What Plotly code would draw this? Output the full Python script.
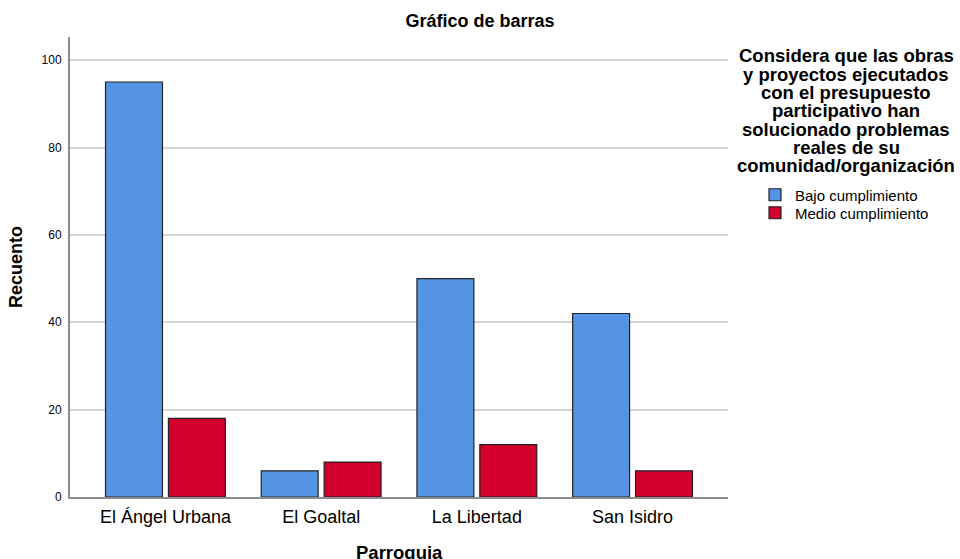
import plotly.graph_objects as go

categories = ["El Ángel Urbana", "El Goaltal", "La Libertad", "San Isidro"]
bajo = [95, 6, 50, 42]
medio = [18, 8, 12, 6]
series_names = ["Bajo cumplimiento", "Medio cumplimiento"]
y_ticks = [0, 20, 40, 60, 80, 100]
legend_title_lines = [
    "Considera que las obras",
    "y proyectos ejecutados",
    "con el presupuesto",
    "participativo han",
    "solucionado problemas",
    "reales de su",
    "comunidad/organización",
]

FONT = "Liberation Sans, Arial, sans-serif"
BLUE = "#5594e4"
RED = "#d3002e"

W, H = 960, 559
ML, MR, MT, MB = 70, 232, 37, 62
PH = H - MT - MB

fig = go.Figure()
fig.add_trace(go.Bar(x=categories, y=bajo, name=series_names[0], legend="legend",
                     marker=dict(color=BLUE, line=dict(color="#222222", width=1.2))))
fig.add_trace(go.Bar(x=categories, y=medio, name=series_names[1], legend="legend2",
                     marker=dict(color=RED, line=dict(color="#222222", width=1.2))))

# legend title as stacked lines (tight line spacing)
cx = (846 - ML) / (W - ML - MR)
for i, line in enumerate(legend_title_lines):
    ypix = 56 + 18.3 * i
    fig.add_annotation(text=f"<b>{line}</b>", xref="paper", yref="paper",
                       x=cx, y=1 - (ypix - MT) / PH,
                       xanchor="center", yanchor="middle", showarrow=False,
                       font=dict(family=FONT, size=18.5, color="#000"))

# x-axis title (sits partly below the page edge, as in the reference)
fig.add_annotation(text="<b>Parroquia</b>", xref="paper", yref="paper",
                   x=0.5, y=-(552 - (H - MB)) / PH, xanchor="center", yanchor="middle",
                   showarrow=False, font=dict(family=FONT, size=18.5, color="#000"))

legend_common = dict(xref="container", yref="container", x=755 / W,
                     xanchor="left", yanchor="middle",
                     font=dict(family=FONT, size=15, color="#000"),
                     bgcolor="rgba(0,0,0,0)", itemclick=False, itemdoubleclick=False)

fig.update_layout(
    width=W, height=H,
    margin=dict(l=ML, r=MR, t=MT, b=MB, autoexpand=False),
    plot_bgcolor="white", paper_bgcolor="white",
    barmode="group", bargap=0.192, bargroupgap=0.095,
    font=dict(family=FONT, color="#000"),
    title=dict(text="<b>Gráfico de barras</b>", x=0.5, xanchor="center",
               xref="container", y=1 - 21 / H, yref="container", yanchor="middle",
               font=dict(family=FONT, size=18, color="#000")),
    legend=dict(**legend_common, y=1 - 195 / H),
    legend2=dict(**legend_common, y=1 - 213 / H),
    showlegend=True,
)
fig.update_xaxes(
    range=[-0.613, 3.613], showline=True, linecolor="#8c8c8c", linewidth=2,
    ticks="outside", ticklen=2, tickcolor="rgba(0,0,0,0)", automargin=False,
    tickfont=dict(family=FONT, size=18, color="#000"),
    showgrid=False, zeroline=False,
)
fig.update_yaxes(
    range=[0, 105.3], tickvals=y_ticks, showline=True, linecolor="#8c8c8c", linewidth=2,
    ticks="outside", ticklen=4, tickcolor="rgba(0,0,0,0)", automargin=False,
    tickfont=dict(family=FONT, size=12, color="#000"),
    showgrid=True, gridcolor="#d4d4d4", gridwidth=1.5, zeroline=False,
    title=dict(text="<b>Recuento</b>", font=dict(family=FONT, size=18, color="#000"), standoff=14),
)

fig.write_html("out.html", config={"displayModeBar": False},
               post_script="document.body.style.margin='0';document.body.style.overflow='hidden';")
